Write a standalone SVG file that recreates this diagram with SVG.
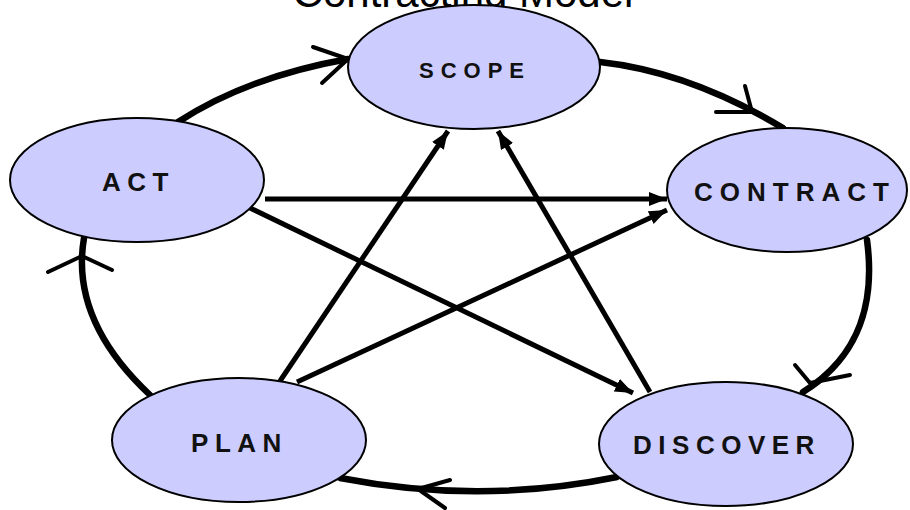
<svg xmlns="http://www.w3.org/2000/svg" width="910" height="510" viewBox="0 0 910 510">
<style>
.node ellipse{fill:#CCCCFF;stroke:#000;stroke-width:2}
.node text{font-family:"Liberation Sans",Arial,sans-serif;font-weight:bold;font-size:26px;letter-spacing:6.5px;fill:#111;text-anchor:middle}
.cyc{fill:none;stroke:#000;stroke-width:6.5;stroke-linecap:round}
.chev{fill:none;stroke:#000;stroke-width:4;stroke-linecap:round;stroke-linejoin:round}
.star{fill:none;stroke:#000;stroke-width:5;marker-end:url(#ah)}
.title{font-family:"Liberation Sans",Arial,sans-serif;font-size:42px;fill:#000;text-anchor:middle}
</style>
<defs>
<marker id="ah" markerUnits="userSpaceOnUse" markerWidth="18" markerHeight="14" refX="18" refY="7" orient="auto">
<path d="M0,0 L18,7 L0,14 Z" fill="#000"/>
</marker>
</defs>
<rect width="910" height="510" fill="#fff"/>
<text class="title" x="463" y="7">Contracting Model</text>
<g id="connectors">
<path class="cyc" d="M178,122 Q247,77 348,59"/>
<path class="chev" d="M313,47 L348,59 L322,83"/>
<path class="cyc" d="M600,62 Q690,72 783,128"/>
<path class="chev" d="M745,86 L752,112 L716,112"/>
<path class="cyc" d="M867,240 C875,300 862,355 803,392"/>
<path class="chev" d="M795,365 L810,383 L850,375"/>
<path class="cyc" d="M617,477 Q480,505 340,478"/>
<path class="chev" d="M450,480 L418,489 L445,508"/>
<path class="cyc" d="M150,395 Q70,320 84,238"/>
<path class="chev" d="M48,272 L82,256 L112,270"/>
<path class="star" d="M265,199 L667,199"/>
<path class="star" d="M248,207 L633,393"/>
<path class="star" d="M280,381 L448,131"/>
<path class="star" d="M297,382 L667,210"/>
<path class="star" d="M650,392 L498,131"/>
</g>
<g id="scope" class="node"><ellipse cx="474" cy="67" rx="126" ry="62"/><text x="475" y="78" style="font-size:22px;letter-spacing:7px">SCOPE</text></g>
<g id="act" class="node"><ellipse cx="137" cy="180" rx="127" ry="62"/><text x="138.5" y="191">ACT</text></g>
<g id="contract" class="node"><ellipse cx="787" cy="190" rx="120" ry="62"/><text x="795" y="201" style="letter-spacing:7px">CONTRACT</text></g>
<g id="discover" class="node"><ellipse cx="726" cy="444" rx="127" ry="62"/><text x="727" y="454">DISCOVER</text></g>
<g id="plan" class="node"><ellipse cx="239" cy="440" rx="127" ry="62"/><text x="239.5" y="452">PLAN</text></g>
</svg>
